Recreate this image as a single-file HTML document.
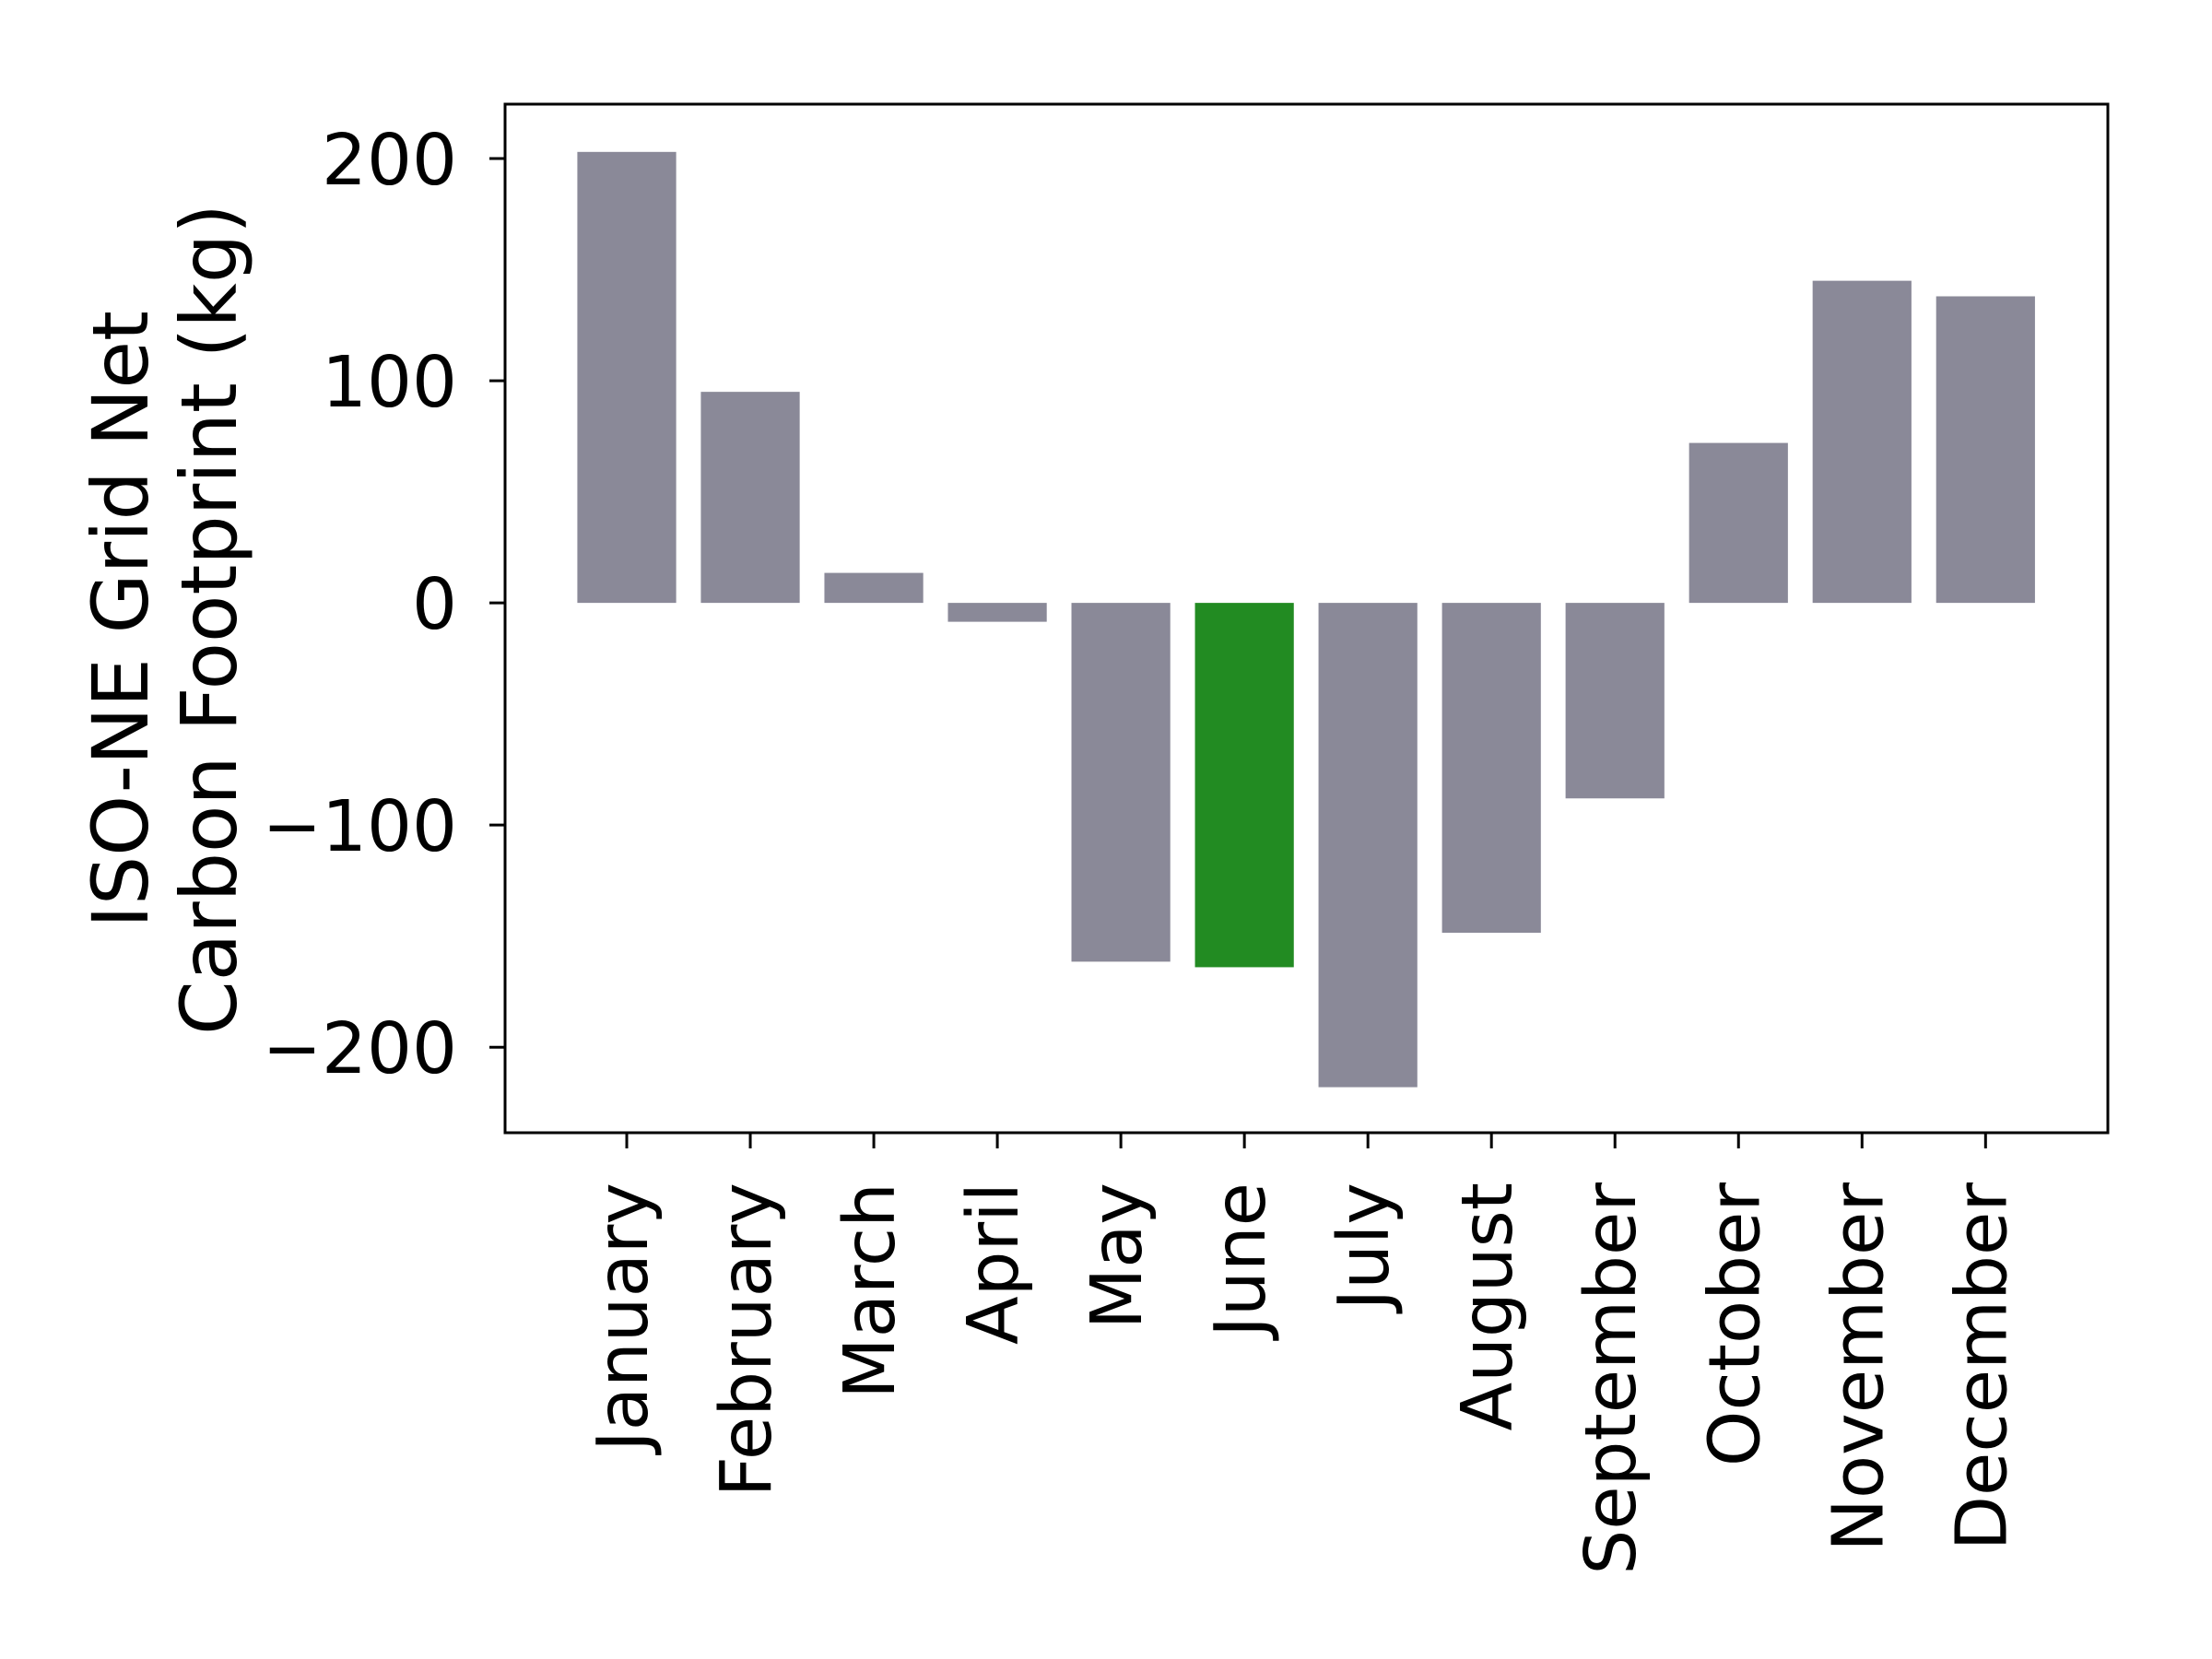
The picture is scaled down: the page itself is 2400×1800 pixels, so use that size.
<!DOCTYPE html>
<html><head><meta charset="utf-8"><style>
html,body{margin:0;padding:0;background:#fff;}
svg{display:block;}
text{font-family:"DejaVu Sans","Liberation Sans",sans-serif;fill:#000;}
</style></head><body>
<svg id="chart" width="2400" height="1800" viewBox="0 0 2400 1800" xmlns="http://www.w3.org/2000/svg">
<rect x="0" y="0" width="2400" height="1800" fill="#fff"/>
<g id="bars"></g>
<g id="yticks"></g>
<g id="xticks"></g>
<rect x="548" y="113" width="1739" height="1116" fill="none" stroke="#000" stroke-width="3"/>
<text font-size="84" text-anchor="middle" transform="translate(160,672) rotate(-90)">ISO-NE Grid Net</text>
<text font-size="84" text-anchor="middle" transform="translate(256,672) rotate(-90)">Carbon Footprint (kg)</text>
</svg>
<script>
const categories = ["January","February","March","April","May","June","July","August","September","October","November","December"];
const values = [203, 95, 13.5, -8.5, -161.5, -164, -218, -148.5, -88, 72, 145, 138];
const highlight = ["June"];
const yTicks = [-200, -100, 0, 100, 200];
const yTickLabels = ["\u2212200", "\u2212100", "0", "100", "200"];

const NS = "http://www.w3.org/2000/svg";
const L = 548, R = 2287, T = 113, B = 1229;
const yMin = -238.5, yMax = 224.5;
const xMin = -0.985, xMax = 11.99;
function xs(i){ return L + (i - xMin) / (xMax - xMin) * (R - L); }
function ys(v){ return B - (v - yMin) / (yMax - yMin) * (B - T); }
const bw = (xs(1) - xs(0)) * 0.8;

const gb = document.getElementById("bars");
categories.forEach((c, i) => {
  const v = values[i];
  const r = document.createElementNS(NS, "rect");
  const y0 = ys(0), y1 = ys(v);
  r.setAttribute("x", xs(i) - bw / 2);
  r.setAttribute("y", Math.min(y0, y1));
  r.setAttribute("width", bw);
  r.setAttribute("height", Math.abs(y1 - y0));
  r.setAttribute("fill", highlight.includes(c) ? "#228b22" : "#8a8998");
  
  
  gb.appendChild(r);
});

const gy = document.getElementById("yticks");
yTicks.forEach((t, i) => {
  const y = ys(t);
  const ln = document.createElementNS(NS, "line");
  ln.setAttribute("x1", L - 17); ln.setAttribute("x2", L);
  ln.setAttribute("y1", y); ln.setAttribute("y2", y);
  ln.setAttribute("stroke", "#000"); ln.setAttribute("stroke-width", "3");
  
  
  gy.appendChild(ln);
  const tx = document.createElementNS(NS, "text");
  tx.setAttribute("x", L - 52); tx.setAttribute("y", y + 28);
  tx.setAttribute("font-size", "77"); tx.setAttribute("text-anchor", "end");
  tx.textContent = yTickLabels[i];
  
  
  gy.appendChild(tx);
});

const gx = document.getElementById("xticks");
categories.forEach((c, i) => {
  const x = xs(i);
  const ln = document.createElementNS(NS, "line");
  ln.setAttribute("x1", x); ln.setAttribute("x2", x);
  ln.setAttribute("y1", B); ln.setAttribute("y2", B + 17);
  ln.setAttribute("stroke", "#000"); ln.setAttribute("stroke-width", "3");
  
  
  gx.appendChild(ln);
  const tx = document.createElementNS(NS, "text");
  tx.setAttribute("font-size", "77"); tx.setAttribute("text-anchor", "end");
  tx.setAttribute("transform", "translate(" + (x + 22) + "," + (B + 54) + ") rotate(-90)");
  tx.textContent = c;
  
  
  gx.appendChild(tx);
});
</script>
</body></html>
